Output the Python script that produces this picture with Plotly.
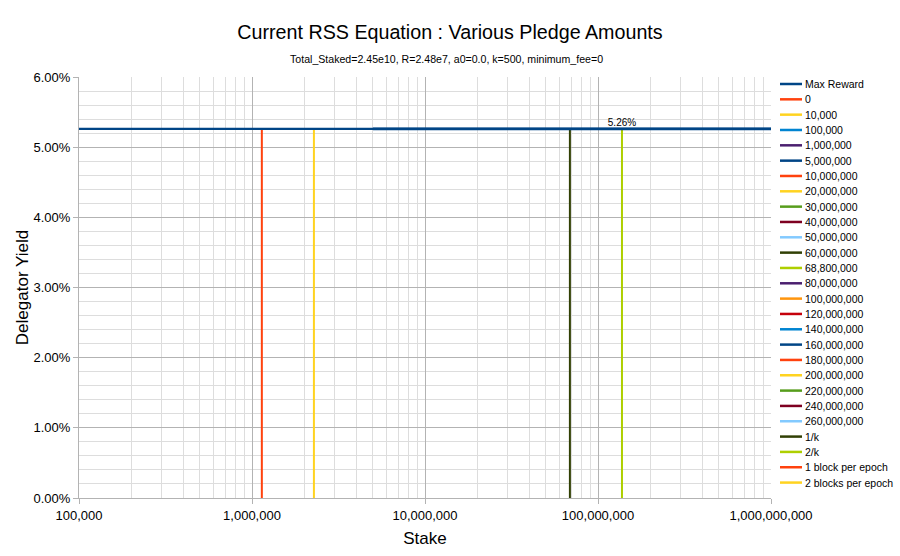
import plotly.graph_objects as go

# ---------------- data ----------------
X_MIN, X_MAX = 1e5, 1e9
max_reward_label = "Max Reward"
max_reward_yield = 0.0526

pledge_labels = ["0", "10,000", "100,000", "1,000,000", "5,000,000", "10,000,000",
                 "20,000,000", "30,000,000", "40,000,000", "50,000,000", "60,000,000",
                 "68,800,000", "80,000,000", "100,000,000", "120,000,000", "140,000,000",
                 "160,000,000", "180,000,000", "200,000,000", "220,000,000", "240,000,000",
                 "260,000,000"]
pledge_values = [0, 1e4, 1e5, 1e6, 5e6, 10e6, 20e6, 30e6, 40e6, 50e6, 60e6, 68.8e6,
                 80e6, 100e6, 120e6, 140e6, 160e6, 180e6, 200e6, 220e6, 240e6, 260e6]
pledge_yields = [0.0526, 0.0526, 0.0526, 0.0526, 0.0526, 0.0526, 0.0526, 0.0526,
                 0.0526, 0.0526, 0.0526, 0.0526, 0.0526, 0.0526, 0.0526, 0.0526,
                 0.0526, 0.0526, 0.0526, 0.0526, 0.0526, 0.0526]
pledge_colors = ["#ff420e", "#ffd320", "#0084d1", "#4b1f6f", "#004586", "#ff420e",
                 "#ffd320", "#579d1c", "#7e0021", "#83caff", "#314004", "#aecf00",
                 "#4b1f6f", "#ff950e", "#c5000b", "#0084d1", "#004586", "#ff420e",
                 "#ffd320", "#579d1c", "#7e0021", "#83caff"]

marker_labels = ["1/k", "2/k", "1 block per epoch", "2 blocks per epoch"]
marker_stakes = [68.8e6, 137.6e6, 1.14e6, 2.28e6]
marker_yields = [0.0526, 0.0526, 0.0526, 0.0526]
marker_colors = ["#314004", "#aecf00", "#ff420e", "#ffd320"]
marker_value_label = [False, True, False, False]

x_tickvals = [1e5, 1e6, 1e7, 1e8, 1e9]
x_ticktext = ["100,000", "1,000,000", "10,000,000", "100,000,000", "1,000,000,000"]

FONT = "Liberation Sans, Arial, sans-serif"
NAVY = "#004586"

fig = go.Figure()

# pledge series (all coincide with max reward line)
for lab, p, yv, c in zip(pledge_labels, pledge_values, pledge_yields, pledge_colors):
    fig.add_trace(go.Scatter(x=[max(p, X_MIN), X_MAX], y=[yv, yv], mode="lines",
                             line=dict(color=c, width=2), name=lab, showlegend=False,
                             hoverinfo="skip"))

# vertical markers
for lab, s, yv, c, show in zip(marker_labels, marker_stakes, marker_yields,
                               marker_colors, marker_value_label):
    fig.add_trace(go.Scatter(x=[s, s], y=[0, yv], mode="lines+text" if show else "lines",
                             text=["", f"{yv*100:.2f}%"] if show else None,
                             textposition="top center",
                             textfont=dict(family=FONT, size=10, color="#000000"),
                             line=dict(color=c, width=2), name=lab, showlegend=False))

# max reward line
fig.add_trace(go.Scatter(x=[X_MIN, X_MAX], y=[max_reward_yield, max_reward_yield],
                         mode="lines", line=dict(color=NAVY, width=2.2),
                         name=max_reward_label, showlegend=False))
# 5,000,000 series drawn over (same colour), slightly thicker
i5 = pledge_labels.index("5,000,000")
fig.add_trace(go.Scatter(x=[pledge_values[i5], X_MAX], y=[pledge_yields[i5]] * 2,
                         mode="lines", line=dict(color=pledge_colors[i5], width=2.8),
                         showlegend=False, hoverinfo="skip"))

# ---------------- custom legend ----------------
L, R, T, B = 79, 129, 77, 58
W, H = 900, 556
PW, PH = W - L - R, H - T - B

def px_x(px):
    return (px - L) / PW

def px_y(py):
    return (H - B - py) / PH

legend_labels = [max_reward_label] + pledge_labels + marker_labels
legend_colors = [NAVY] + pledge_colors + marker_colors
y0, step = 84, 15.33
shapes = []
annotations = []
for i, (lab, c) in enumerate(zip(legend_labels, legend_colors)):
    yy = y0 + i * step
    shapes.append(dict(type="line", xref="paper", yref="paper",
                       x0=px_x(780), x1=px_x(802), y0=px_y(yy), y1=px_y(yy),
                       line=dict(color=c, width=2.5)))
    annotations.append(dict(xref="paper", yref="paper", x=px_x(803), y=px_y(yy),
                            text=lab, showarrow=False, xanchor="left", yanchor="middle",
                            font=dict(family=FONT, size=10.5, color="#000000")))

annotations.append(dict(xref="paper", yref="paper", x=px_x(446), y=px_y(59),
                        text="Total_Staked=2.45e10, R=2.48e7, a0=0.0, k=500, minimum_fee=0",
                        showarrow=False, xanchor="center", yanchor="middle",
                        font=dict(family=FONT, size=10.6, color="#000000")))

fig.update_layout(
    width=W, height=H,
    margin=dict(l=L, r=R, t=T, b=B),
    paper_bgcolor="white", plot_bgcolor="white",
    title=dict(text="Current RSS Equation : Various Pledge Amounts",
               x=0.5, xref="container", xanchor="center",
               y=1 - 32 / H, yref="container", yanchor="middle",
               font=dict(family=FONT, size=19.7, color="#000000")),
    showlegend=False,
    shapes=shapes,
    annotations=annotations,
    xaxis=dict(type="log", range=[5, 9], tickvals=x_tickvals, ticktext=x_ticktext,
               showgrid=True, gridcolor="#b3b3b3", gridwidth=1,
               minor=dict(dtick="D1", showgrid=True, gridcolor="#dddddd", ticks=""),
               ticks="outside", ticklen=5, tickcolor="#b3b3b3",
               showline=True, linecolor="#b3b3b3", zeroline=False,
               tickfont=dict(family=FONT, size=13, color="#000000"),
               title=dict(text="Stake", standoff=10,
                          font=dict(family=FONT, size=17, color="#000000"))),
    yaxis=dict(range=[0, 0.06], dtick=0.01, tickformat=".2%",
               showgrid=True, gridcolor="#b3b3b3", gridwidth=1,
               minor=dict(dtick=0.002, showgrid=True, gridcolor="#dddddd", ticks=""),
               ticks="outside", ticklen=5, tickcolor="#b3b3b3",
               showline=True, linecolor="#b3b3b3", zeroline=False,
               tickfont=dict(family=FONT, size=13, color="#000000"),
               title=dict(text="Delegator Yield", standoff=0,
                          font=dict(family=FONT, size=17, color="#000000"))),
)

fig.write_html("out.html")
